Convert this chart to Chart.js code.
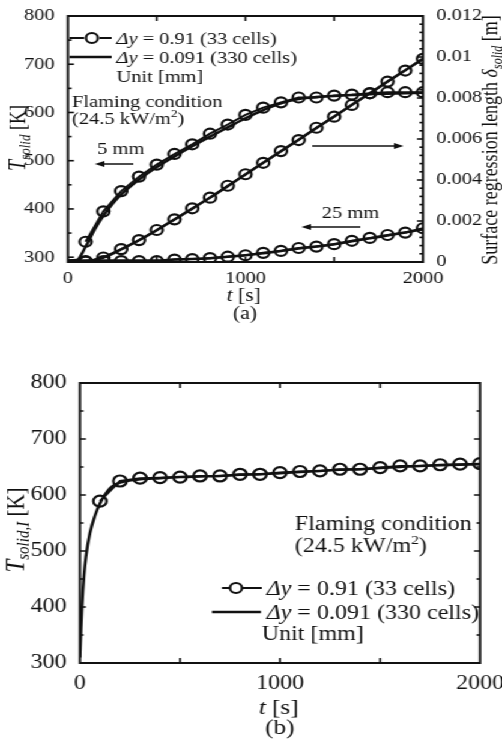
<!DOCTYPE html>
<html>
<head>
<meta charset="utf-8">
<script src="https://cdn.jsdelivr.net/npm/chart.js@4"></script>
<style>
html,body{margin:0;padding:0;background:#fff;overflow:hidden;}
#wrap{position:relative;width:418px;height:747px;transform:scaleX(1.201);transform-origin:0 0;}
canvas{position:absolute;left:0;}
</style>
</head>
<body>
<div id="wrap">
<canvas id="chartA" width="418" height="330" style="top:0px"></canvas>
<canvas id="chartB" width="418" height="417" style="top:330px"></canvas>
</div>
<script>
// ---- data (a) ----
const tCoarse = [100,200,300,400,500,600,700,800,900,1000,1100,1200,1300,1400,1500,1600,1700,1800,1900,2000];
const tFineA  = [0,50,100,150,200,250,300,400,500,600,700,800,900,1000,1100,1200,1300,1400,1500,1600,1700,1800,1900,2000];
// 5 mm depth temperature [K]
const T5Coarse  = [332,395,437,467,492,514,534,556,575,595,610,621,631,631,635,637,640,642,642,642];
const T5Fine    = [293,294,322,357,386,410,430,461,487,509,530,550,569,588,605,619,628,632,634,636,638,639,640,641];
// 25 mm depth temperature [K]
const T25Coarse = [292,292,292,292,292,295,296,298,301,304,309,313,319,322,327,334,340,346,351,360];
const T25Fine   = [293,293,293,293,293,293,293,293,293,295,296,298,301,304,308,313,318,322,327,333,339,345,351,358];
// surface regression length [m]
const dCoarse = [0.00002,0.00022,0.00063,0.00107,0.00156,0.00208,0.00262,0.00314,0.00372,0.00428,0.00484,0.00541,0.00595,0.00655,0.00709,0.00766,0.00823,0.0088,0.00934,0.00991];
const dFine   = [0,0,0.00004,0.0001,0.00022,0.0004,0.00062,0.00106,0.00155,0.00207,0.0026,0.00314,0.0037,0.00427,0.00484,0.0054,0.00597,0.00654,0.0071,0.00767,0.00823,0.0088,0.00936,0.00992];

// ---- data (b) ----
const tFineB  = [0,5,10,20,30,50,75,100,150,200,300,400,500,600,700,800,900,1000,1100,1200,1300,1400,1500,1600,1700,1800,1900,2000];
const TICoarse = [589,625,630,631,632,634,634,637,637,640,642,643,646,646,649,652,652,654,655,656];
const TIFine   = [310,360,400,455,490,532,563,585,612,622,628,630,632,633,634,636,637,639,641,643,645,646,648,650,652,653,654,655];

const FONT = '"Liberation Serif", "Times New Roman", serif';
const INK = '#111';

function pts(xs, ys){ return xs.map((x,i)=>({x:x, y:ys[i]})); }

function lineSet(xs, ys, axis){
    return {data: pts(xs,ys), yAxisID: axis, borderColor: INK, borderWidth: 2.5,
        pointRadius: 0, fill: false, cubicInterpolationMode: 'monotone'};
}
function circleSet(xs, ys, axis, r){
    return {data: pts(xs,ys), yAxisID: axis, borderColor: INK, borderWidth: 2,
        pointRadius: r, pointBorderWidth: 2.2, pointBorderColor: INK,
        pointBackgroundColor: 'rgba(0,0,0,0)', fill: false};
}

// mixed italic / subscript text: parts = [text, size, italic, dy]
function rich(ctx, parts, x, y, align, rot){
    ctx.save();
    ctx.translate(x, y);
    if(rot) ctx.rotate(rot);
    let w = 0;
    parts.forEach(p=>{ ctx.font = (p[2]?'italic ':'') + p[1] + 'px ' + FONT; w += ctx.measureText(p[0]).width; });
    let cx = align === 'center' ? -w/2 : 0;
    const base = parts[0][1]*0.34;
    ctx.fillStyle = INK;
    ctx.textBaseline = 'alphabetic';
    ctx.textAlign = 'left';
    parts.forEach(p=>{
        ctx.font = (p[2]?'italic ':'') + p[1] + 'px ' + FONT;
        ctx.fillText(p[0], cx, base + (p[3]||0));
        cx += ctx.measureText(p[0]).width;
    });
    ctx.restore();
}

function arrow(ctx, x1, y, x2){
    const d = x2 > x1 ? 1 : -1;
    ctx.save();
    ctx.strokeStyle = INK; ctx.fillStyle = INK; ctx.lineWidth = 1.5;
    ctx.beginPath(); ctx.moveTo(x1, y); ctx.lineTo(x2 - d*6, y); ctx.stroke();
    ctx.beginPath(); ctx.moveTo(x2, y); ctx.lineTo(x2 - d*8, y - 3); ctx.lineTo(x2 - d*8, y + 3); ctx.closePath(); ctx.fill();
    ctx.restore();
}

function hline(ctx, x1, x2, y, w){
    ctx.save(); ctx.strokeStyle = INK; ctx.lineWidth = w;
    ctx.beginPath(); ctx.moveTo(x1, y); ctx.lineTo(x2, y); ctx.stroke(); ctx.restore();
}
function ring(ctx, x, y, r){
    ctx.save(); ctx.strokeStyle = INK; ctx.lineWidth = 2.2;
    ctx.beginPath(); ctx.arc(x, y, r, 0, Math.PI*2); ctx.stroke(); ctx.restore();
}

// frame + inward ticks
function frameAndTicks(chart, spec){
    const ctx = chart.ctx, a = chart.chartArea;
    ctx.save();
    ctx.strokeStyle = INK;
    ctx.lineWidth = 1.6;
    spec.forEach(s=>{
        const sc = chart.scales[s.scale];
        for(let v = s.from; v <= s.to + 1e-9; v += s.step){
            const major = Math.abs(v/s.major - Math.round(v/s.major)) < 1e-6;
            const len = major ? 5 : 3;
            const p = sc.getPixelForValue(v);
            ctx.beginPath();
            s.sides.forEach(side=>{
                if(side==='bottom'){ ctx.moveTo(p, a.bottom); ctx.lineTo(p, a.bottom - len); }
                if(side==='top'){ ctx.moveTo(p, a.top); ctx.lineTo(p, a.top + len); }
                if(side==='left'){ ctx.moveTo(a.left, p); ctx.lineTo(a.left + len, p); }
                if(side==='right'){ ctx.moveTo(a.right, p); ctx.lineTo(a.right - len, p); }
            });
            ctx.stroke();
        }
    });
    ctx.lineWidth = 2;
    ctx.strokeRect(a.left, a.top, a.right - a.left, a.bottom - a.top);
    ctx.restore();
}

function fixWidth(w){ return function(s){ s.width = w; s.paddingTop = 0; s.paddingBottom = 0; }; }
function fixHeight(h){ return function(s){ s.height = h; s.paddingLeft = 0; s.paddingRight = 0; }; }
const plain = v => String(v);

// ---------- chart (a) ----------
const decorA = {
    id: 'decorA',
    afterDraw(chart){
        const ctx = chart.ctx;
        frameAndTicks(chart, [
            {scale:'x', from:500, to:1500, step:500, major:500, sides:['bottom','top']},
            {scale:'y', from:300, to:800, step:50, major:100, sides:['left']},
            {scale:'y1', from:0, to:0.012, step:0.0004, major:0.002, sides:['right']}
        ]);
        // legend
        hline(ctx, 58, 70, 38, 2); ring(ctx, 76.6, 38, 5); hline(ctx, 83, 93, 38, 2);
        rich(ctx, [['Δy',17,true],[' = 0.91 (33 cells)',17,false]], 97, 38, 'left');
        hline(ctx, 58, 93, 57, 2.5);
        rich(ctx, [['Δy',17,true],[' = 0.091 (330 cells)',17,false]], 97, 57, 'left');
        rich(ctx, [['Unit [mm]',17,false]], 97, 76, 'left');
        rich(ctx, [['Flaming condition',17,false]], 60, 101, 'left');
        rich(ctx, [['(24.5 kW/m',17,false],['2',11,false,-7],[')',17,false]], 60, 118, 'left');
        // depth labels and arrows
        rich(ctx, [['5 mm',17,false]], 81, 148, 'left');
        arrow(ctx, 111, 164, 79);
        arrow(ctx, 260, 146, 336);
        rich(ctx, [['25 mm',17,false]], 268, 212, 'left');
        arrow(ctx, 300, 227, 251);
        // axis titles
        rich(ctx, [['T',20,true],['solid',13,true,4],[' [K]',18,false]], 14, 138, 'center', -Math.PI/2);
        rich(ctx, [['Surface regression length ',18,false],['δ',18,true],['solid',12,true,4],[' [m]',18,false]], 408, 140, 'center', -Math.PI/2);
        rich(ctx, [['t',18,true],[' [s]',18,false]], 203, 295, 'center');
        rich(ctx, [['(a)',18,false]], 204, 313, 'center');
    }
};

new Chart(document.getElementById('chartA').getContext('2d'), {
    type: 'line',
    data: {datasets: [
        lineSet(tFineA, T5Fine, 'y'),
        lineSet(tFineA, T25Fine, 'y'),
        lineSet(tFineA, dFine, 'y1'),
        circleSet(tCoarse, T5Coarse, 'y', 5),
        circleSet(tCoarse, T25Coarse, 'y', 5),
        circleSet(tCoarse, dCoarse, 'y1', 5)
    ]},
    options: {
        responsive: false, animation: false, devicePixelRatio: 1,
        layout: {padding: {top: 16, left: 0, right: 0, bottom: 0}},
        plugins: {legend: {display: false}, tooltip: {enabled: false}},
        scales: {
            x: {type: 'linear', min: 0, max: 2000,
                ticks: {stepSize: 1000, color: INK, font: {family: FONT, size: 17, lineHeight: 1}, padding: 0, maxRotation: 0, callback: plain},
                grid: {display: false}, border: {display: false},
                afterFit: fixHeight(330 - 262)},
            y: {position: 'left', min: 290, max: 800,
                afterBuildTicks(s){ s.ticks = [300,400,500,600,700,800].map(v=>({value: v})); },
                ticks: {color: INK, font: {family: FONT, size: 17}, padding: 3, callback: plain},
                grid: {display: false}, border: {display: false},
                afterFit: fixWidth(56.6)},
            y1: {position: 'right', min: 0, max: 0.012,
                ticks: {stepSize: 0.002, color: INK, font: {family: FONT, size: 17}, padding: 3,
                    callback: v => String(parseFloat(v.toFixed(3)))},
                grid: {display: false}, border: {display: false},
                afterFit: fixWidth(418 - 352.2)}
        }
    },
    plugins: [decorA]
});

// ---------- chart (b) ----------
const decorB = {
    id: 'decorB',
    afterDraw(chart){
        const ctx = chart.ctx;
        frameAndTicks(chart, [
            {scale:'x', from:500, to:1500, step:500, major:500, sides:['bottom','top']},
            {scale:'y', from:300, to:800, step:50, major:100, sides:['left','right']}
        ]);
        rich(ctx, [['Flaming condition',20,false]], 245.6, 193, 'left');
        rich(ctx, [['(24.5 kW/m',20,false],['2',13,false,-8],[')',20,false]], 245.6, 215, 'left');
        hline(ctx, 184.8, 191.5, 258, 2); ring(ctx, 196.5, 258, 5); hline(ctx, 202, 218, 258, 2);
        rich(ctx, [['Δy',20,true],[' = 0.91 (33 cells)',20,false]], 222, 258, 'left');
        hline(ctx, 176.5, 217.3, 282, 2.5);
        rich(ctx, [['Δy',20,true],[' = 0.091 (330 cells)',20,false]], 222, 282, 'left');
        rich(ctx, [['Unit [mm]',20,false]], 218, 303, 'left');
        rich(ctx, [['T',23,true],['solid,I',15,true,4],[' [K]',21,false]], 12, 200, 'center', -Math.PI/2);
        rich(ctx, [['t',21,true],[' [s]',21,false]], 232, 377, 'center');
        rich(ctx, [['(b)',21,false]], 233, 397, 'center');
    }
};

new Chart(document.getElementById('chartB').getContext('2d'), {
    type: 'line',
    data: {datasets: [
        lineSet(tFineB, TIFine, 'y'),
        circleSet(tCoarse, TICoarse, 'y', 5.5)
    ]},
    options: {
        responsive: false, animation: false, devicePixelRatio: 1,
        layout: {padding: {top: 53, left: 0, right: 18.3, bottom: 0}},
        plugins: {legend: {display: false}, tooltip: {enabled: false}},
        scales: {
            x: {type: 'linear', min: 0, max: 2000,
                ticks: {stepSize: 1000, color: INK, font: {family: FONT, size: 20, lineHeight: 1}, padding: 3, maxRotation: 0, callback: plain},
                grid: {display: false}, border: {display: false},
                afterFit: fixHeight(417 - 333)},
            y: {position: 'left', min: 300, max: 800,
                ticks: {stepSize: 100, color: INK, font: {family: FONT, size: 20}, padding: 3, callback: plain},
                grid: {display: false}, border: {display: false},
                afterFit: fixWidth(66.6)}
        }
    },
    plugins: [decorB]
});
</script>
</body>
</html>
